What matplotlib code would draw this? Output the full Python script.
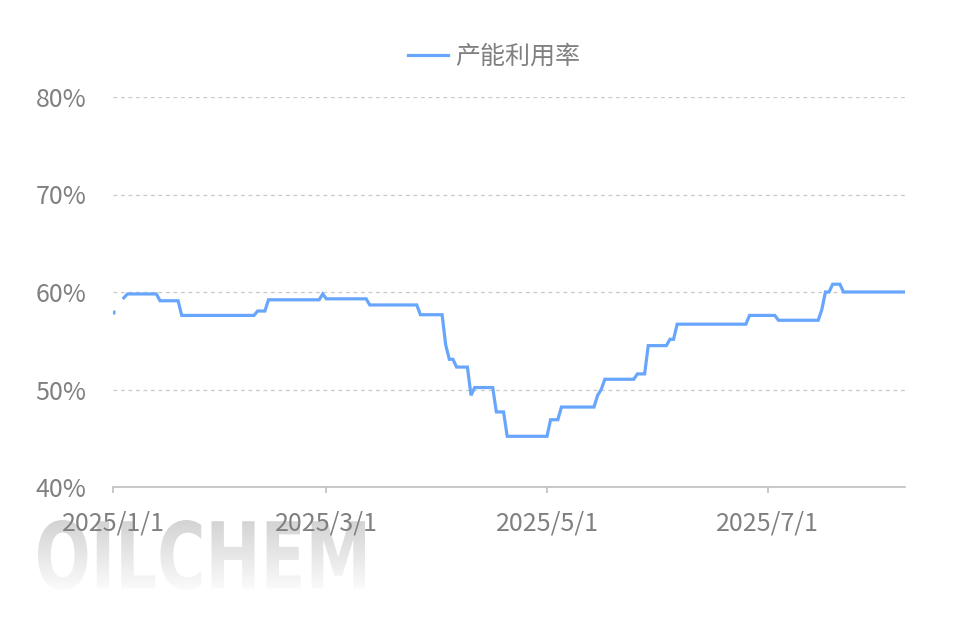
import numpy as np
import pandas as pd
import matplotlib
matplotlib.use("Agg")
import matplotlib.pyplot as plt
import matplotlib.dates as mdates
from matplotlib.textpath import TextPath
from matplotlib.patches import PathPatch
from matplotlib.font_manager import FontProperties
from matplotlib.colors import LinearSegmentedColormap

plt.rcParams['font.family'] = ['Noto Sans CJK SC', 'DejaVu Sans']

# vertices of the utilisation line (date, %)
dates = ["2025-01-01", "2025-01-02", "2025-01-04", "2025-01-05", "2025-01-13", "2025-01-14",
         "2025-01-19", "2025-01-20", "2025-02-09", "2025-02-10", "2025-02-12", "2025-02-13",
         "2025-02-27", "2025-02-28", "2025-03-01", "2025-03-12", "2025-03-13", "2025-03-26",
         "2025-03-27", "2025-04-02", "2025-04-03", "2025-04-04", "2025-04-05", "2025-04-06",
         "2025-04-09", "2025-04-10", "2025-04-11", "2025-04-16", "2025-04-17", "2025-04-19",
         "2025-04-20", "2025-05-01", "2025-05-02", "2025-05-04", "2025-05-05", "2025-05-14",
         "2025-05-15", "2025-05-16", "2025-05-17", "2025-05-25", "2025-05-26", "2025-05-28",
         "2025-05-29", "2025-06-03", "2025-06-04", "2025-06-05", "2025-06-06", "2025-06-25",
         "2025-06-26", "2025-07-03", "2025-07-04", "2025-07-15", "2025-07-16", "2025-07-17",
         "2025-07-18", "2025-07-19", "2025-07-21", "2025-07-22", "2025-08-08"]
values = [57.9, np.nan, 59.4, 59.8, 59.8, 59.1,
          59.1, 57.6, 57.6, 58.05, 58.05, 59.2,
          59.2, 59.8, 59.3, 59.3, 58.67, 58.67,
          57.67, 57.67, 54.56, 53.1, 53.1, 52.3,
          52.3, 49.4, 50.2, 50.2, 47.7, 47.7,
          45.2, 45.2, 46.9, 46.9, 48.2, 48.2,
          49.4, 50.0, 51.05, 51.05, 51.6, 51.6,
          54.5, 54.5, 55.15, 55.15, 56.7, 56.7,
          57.6, 57.6, 57.1, 57.1, 58.2, 60.0,
          60.0, 60.8, 60.8, 60.0, 60.0]
series_name = "产能利用率"
x_ticks = ["2025-01-01", "2025-03-01", "2025-05-01", "2025-07-01"]
y_ticks = [40, 50, 60, 70, 80]

dt = pd.to_datetime(dates)
vals = np.array(values)

W, H = 955, 637
fig = plt.figure(figsize=(W / 100, H / 100), dpi=100)
grey = '#808080'
line_color = '#68a6fd'

# watermark with a vertical grey gradient
wm = fig.add_axes([38 / W, 1 - 590 / H, 327 / W, 70 / H], zorder=0)
wm.axis('off')
tp = TextPath((0, 0), "OILCHEM", size=1, prop=FontProperties(family='DejaVu Sans', weight='bold'))
bb = tp.get_extents()
wm.set_xlim(bb.x0, bb.x1)
wm.set_ylim(bb.y0, bb.y1)
patch = PathPatch(tp, facecolor='none', edgecolor='none')
wm.add_patch(patch)
grad = np.linspace(0, 1, 100).reshape(-1, 1)
cmap = LinearSegmentedColormap.from_list('wm', ['#d3d3d3', '#fbfbfb'])
im = wm.imshow(grad, extent=[bb.x0, bb.x1, bb.y0, bb.y1], aspect='auto', cmap=cmap,
               origin='upper', interpolation='bilinear')
im.set_clip_path(patch)

ax = fig.add_axes([113 / W, 1 - 487 / H, 792 / W, 390 / H], zorder=1)
ax.patch.set_alpha(0)

ax.plot(dt, vals, color=line_color, lw=2.3, solid_joinstyle='miter', label=series_name)
ax.plot(dt[:1], vals[:1], 's', color=line_color, ms=2.3, mec='none')

ax.set_xlim(dt[0], dt[-1])
ax.set_ylim(40, 80)
ax.set_yticks(y_ticks)
ax.set_yticklabels([f"{v}%" for v in y_ticks])
ax.set_xticks(pd.to_datetime(x_ticks))
ax.xaxis.set_major_formatter(mdates.DateFormatter('%Y/%-m/%-d'))

for v in y_ticks[1:]:
    ax.axhline(v, color='#c8c8c8', lw=0.9, ls=(0, (3, 3)), zorder=0)

for s in ['top', 'right', 'left']:
    ax.spines[s].set_visible(False)
ax.spines['bottom'].set_color('#bfbfbf')
ax.spines['bottom'].set_linewidth(1.2)
ax.tick_params(axis='x', length=4, width=1.2, color='#bfbfbf', labelsize=18, labelcolor=grey, pad=13)
ax.tick_params(axis='y', length=0, labelsize=18, labelcolor=grey, pad=19)

ax.legend(loc='center', bbox_to_anchor=((494 - 113) / 792, (487 - 57) / 390), frameon=False,
          fontsize=18, labelcolor=grey, handlelength=1.6, handletextpad=0.25)

fig.savefig("out.png", dpi=100)
